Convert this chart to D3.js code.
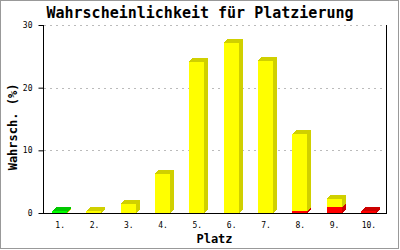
<!DOCTYPE html>
<html>
<head>
<meta charset="utf-8">
<script src="https://cdn.jsdelivr.net/npm/d3@7"></script>
<style>
html,body{margin:0;padding:0;background:#fff;}
svg{display:block;}
</style>
</head>
<body>
<script>
const categories = ["1.","2.","3.","4.","5.","6.","7.","8.","9.","10."];
const redValues    = [0, 0, 0, 0, 0, 0, 0, 0.3, 0.9, 0.3];
const yellowValues = [0.05, 0.3, 1.5, 6.3, 24.1, 27.2, 24.3, 12.3, 1.4, 0];
const greenValues  = [0.2, 0, 0, 0, 0, 0, 0, 0, 0, 0];
const yTicks = [0, 10, 20, 30];
const title = "Wahrscheinlichkeit für Platzierung";
const yTitle = "Wahrsch. (%)";
const xTitle = "Platz";

const W = 400, H = 250;
const pLeft = 43, pRight = 386, pTop = 25, pBottom = 213;
const mono = "'DejaVu Sans Mono', 'Liberation Mono', monospace";

const svg = d3.select("body").append("svg").attr("width", W).attr("height", H);
svg.append("rect").attr("x",0).attr("y",0).attr("width",W).attr("height",H).attr("fill","#fff");
svg.append("rect").attr("x",0.5).attr("y",0.5).attr("width",398).attr("height",248)
  .attr("fill","none").attr("stroke","#999");

const x = d3.scaleBand().domain(categories).range([pLeft, pRight]);
const y = d3.scaleLinear().domain([0, 30]).range([pBottom, pTop]);

// grid
svg.append("g").selectAll("line").data(yTicks.filter(d => d > 0)).join("line")
  .attr("x1", pLeft + 1).attr("x2", pRight)
  .attr("y1", d => Math.round(y(d)) + 0.5).attr("y2", d => Math.round(y(d)) + 0.5)
  .attr("stroke", "#bbb").attr("stroke-dasharray", "2,4");

// bars
const series = [
  {vals: redValues, front: "#ff0000", dark: "#cc0000"},
  {vals: yellowValues, front: "#ffff00", dark: "#d0d000"},
  {vals: greenValues, front: "#00ff00", dark: "#00c800"}
];
const bw = 15, dep = 4;
const gBars = svg.append("g").attr("shape-rendering", "crispEdges");
categories.forEach((c, i) => {
  let base = 0;
  const x0 = Math.round(x(c) + x.bandwidth() / 2 - 8);
  series.forEach(s => {
    const v = s.vals[i];
    if (v <= 0) return;
    const yb = y(base), yt = y(base + v);
    const g = gBars.append("g");
    g.append("polygon").attr("points", [[x0 + bw, yb],[x0 + bw + dep, yb - dep],[x0 + bw + dep, yt - dep],[x0 + bw, yt]].join(" "))
      .attr("fill", s.dark);
    g.append("polygon").attr("points", [[x0, yt],[x0 + dep, yt - dep],[x0 + bw + dep, yt - dep],[x0 + bw, yt]].join(" "))
      .attr("fill", s.dark);
    g.append("rect").attr("x", x0).attr("y", yt).attr("width", bw).attr("height", Math.max(0, yb - yt))
      .attr("fill", s.front);
    base += v;
  });
});

// axes
const axG = svg.append("g").attr("shape-rendering", "crispEdges");
axG.append("line").attr("x1", pLeft + 0.5).attr("x2", pLeft + 0.5).attr("y1", pTop).attr("y2", pBottom + 1).attr("stroke", "#000");
axG.append("line").attr("x1", pRight + 0.5).attr("x2", pRight + 0.5).attr("y1", pTop).attr("y2", pBottom + 1).attr("stroke", "#000");
axG.append("line").attr("x1", pLeft).attr("x2", pRight + 1).attr("y1", pBottom + 0.5).attr("y2", pBottom + 0.5).attr("stroke", "#000");

const yAxis = d3.axisLeft(y).tickValues(yTicks).tickSize(5).tickPadding(6).tickSizeOuter(0);
const ya = svg.append("g").attr("transform", `translate(${pLeft + 0.5},0)`).call(yAxis);
ya.select(".domain").remove();
ya.selectAll("text").attr("font-family", mono).attr("font-size", 8).attr("fill", "#000");

const xAxis = d3.axisBottom(x).tickSize(0).tickPadding(9);
const xa = svg.append("g").attr("transform", `translate(0,${pBottom})`).call(xAxis);
xa.select(".domain").remove();
xa.selectAll("text").attr("font-family", mono).attr("font-size", 8).attr("fill", "#000");

// titles
svg.append("text").attr("x", 200).attr("y", 18).attr("text-anchor", "middle")
  .attr("font-family", mono).attr("font-weight", "bold").attr("font-size", 15).text(title);
svg.append("text").attr("x", (pLeft + pRight) / 2).attr("y", 243).attr("text-anchor", "middle")
  .attr("font-family", mono).attr("font-weight", "bold").attr("font-size", 12).text(xTitle);
svg.append("text").attr("transform", "translate(16.5,127) rotate(-90)").attr("text-anchor", "middle")
  .attr("font-family", mono).attr("font-weight", "bold").attr("font-size", 12).text(yTitle);
</script>
</body>
</html>
